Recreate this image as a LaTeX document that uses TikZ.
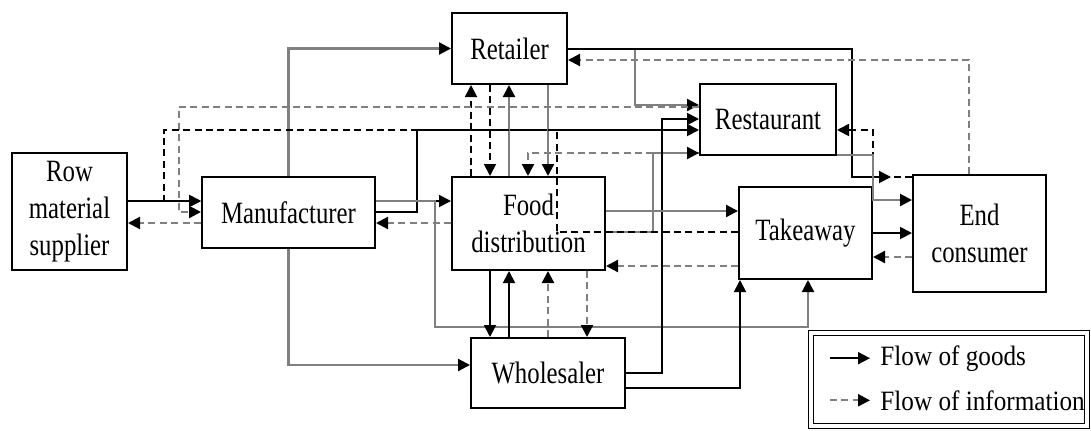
\documentclass[tikz,border=0pt]{standalone}
\usepackage{fontspec}
\setmainfont{Liberation Serif}[FakeStretch=0.8]
\newfontfamily\legendfont{Liberation Serif}[FakeStretch=0.9]
\usepackage{xcolor}
\usepackage{tikz}
\usetikzlibrary{arrows.meta}
\definecolor{lightline}{gray}{0.5}

\begin{document}
\begin{tikzpicture}[
  x=0.5pt, y=-0.5pt,
  unit/.style = {draw, line width=1pt, align=center, inner sep=0pt, font=\fontsize{15.5pt}{18.5pt}\selectfont},
  goods/.style = {-{Triangle[length=6pt, width=6pt, color=black]}, line width=0.9pt},
  goodsg/.style = {goods, draw=lightline, line width=1.1pt},
  info/.style = {goods, dash pattern=on 3.5pt off 2.2pt},
  infog/.style = {info, draw=lightline, line width=1.1pt},
  legendtext/.style = {anchor=base west, inner sep=0pt, font=\fontsize{14pt}{16pt}\legendfont},
]
\useasboundingbox (0,0) rectangle (1091,430);
\node[unit, minimum width=57.5pt, minimum height=58.5pt] (sup) at (69.5,211.5) {Row\\material\\supplier};
\node[unit, minimum width=86.5pt, minimum height=35.5pt] (man) at (288.5,212.5) {Manufacturer};
\node[unit, minimum width=57.5pt, minimum height=35.5pt] (ret) at (509.5,48.5) {Retailer};
\node[unit, minimum width=76.5pt, minimum height=46.5pt] (food) at (528.5,223.5) {Food\\distribution};
\node[unit, minimum width=68pt, minimum height=35.5pt] (rest) at (768,119.5) {Restaurant};
\node[unit, minimum width=66.5pt, minimum height=46pt] (take) at (805.5,233) {Takeaway};
\node[unit, minimum width=66.5pt, minimum height=58.5pt] (cons) at (979.5,233.5) {End\\consumer};
\node[unit, minimum width=77pt, minimum height=35pt] (whole) at (548,373) {Wholesaler};
\node[draw, double, double distance=1.6pt, line width=0.8pt, minimum width=138pt, minimum height=46.5pt] (legend) at (949,379.5) {};
\node[legendtext] (lgoods) at (880,365) {Flow of goods};
\node[legendtext] (linfo) at (880,410) {Flow of information};
\draw[goods] ([xshift=-25pt]lgoods.west) -- ([xshift=-5pt]lgoods.west);
\draw[infog] ([xshift=-25pt]linfo.west) -- ([xshift=-5pt]linfo.west);

\draw[goods] (sup.east |- 0,201) -- (man.west |- 0,201);
\draw[infog] (man.west |- 0,223) -- (sup.east |- 0,223);
\draw[goodsg] (man.north) |- (ret.west);
\draw[goodsg] (man.south) |- (whole.west |- 0,365);
\draw[goods] (man.east |- 0,201) -- (food.west |- 0,201);
\draw[infog] (food.west |- 0,223) -- (man.east |- 0,223);
\draw[goods] (man.east |- 0,212) -| (417,130) -- (rest.west |- 0,130);
\draw[goodsg] (man.east |- 0,201) -| (435,327) -| (take.south -| 808,0);
\draw[info] (food.north -| 471,0) -- (ret.south -| 471,0);
\draw[info] (ret.south -| 490,0) -- (food.north -| 490,0);
\draw[goodsg] (food.north -| 509,0) -- (ret.south -| 509,0);
\draw[goodsg] (ret.south -| 548,0) -- (food.north -| 548,0);
\draw[infog] (rest.west |- 0,153) -| (food.north -| 528,0);
\draw[goodsg] (food.east |- 0,232) -| (653,153) -- (rest.west |- 0,153);
\draw[goodsg] (ret.east |- 0,49) -| (635,105) -- (rest.west |- 0,105);
\draw[infog] (rest.west |- 0,107) -| (179,212) -- (man.west |- 0,212);
\draw[info] (take.west |- 0,232) -| (557,130) -| (164,201) -- (man.west |- 0,201);
\draw[goods] (whole.east |- 0,373) -| (662,119) -- (rest.west |- 0,119);
\draw[goods] (whole.east |- 0,388) -| (take.south -| 740,0);
\draw[goodsg] (food.east |- 0,211) -- (take.west |- 0,211);
\draw[infog] (take.west |- 0,266) -- (food.east |- 0,266);
\draw[goods] (food.south -| 490,0) -- (whole.north -| 490,0);
\draw[goods] (whole.north -| 509,0) -- (food.south -| 509,0);
\draw[infog] (whole.north -| 548,0) -- (food.south -| 548,0);
\draw[infog] (food.south -| 587,0) -- (whole.north -| 587,0);
\draw[goods, shorten >=10.5pt] (ret.east |- 0,49) -| (852,177) -- (cons.west |- 0,177);
\draw[info] (cons.west |- 0,177) -| (873,130) -- (rest.east |- 0,130);
\draw[goodsg] (rest.east |- 0,155) -| (873,200) -- (cons.west |- 0,200);
\draw[infog] (cons.north -| 969,0) |- (ret.east |- 0,60);
\draw[goods] (take.east |- 0,233) -- (cons.west |- 0,233);
\draw[infog] (cons.west |- 0,257) -- (take.east |- 0,257);
\end{tikzpicture}
\end{document}
